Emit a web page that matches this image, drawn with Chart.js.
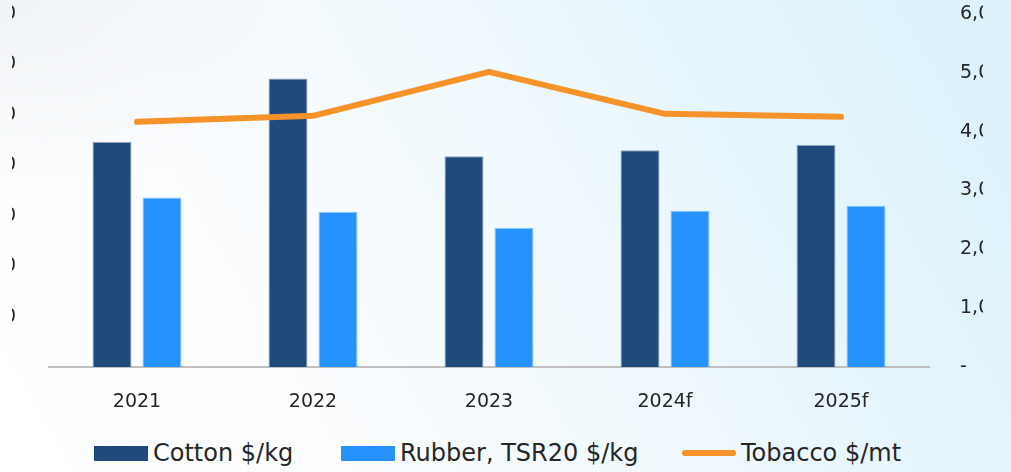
<!DOCTYPE html>
<html>
<head>
<meta charset="utf-8">
<script src="https://cdn.jsdelivr.net/npm/chart.js@4.4.1/dist/chart.umd.min.js"></script>
<style>
  html, body { margin: 0; padding: 0; }
  body {
    width: 1011px; height: 472px; overflow: hidden; position: relative;
    background:
      radial-gradient(ellipse 320px 200px at 0% 0%, rgba(236,239,242,0.7), rgba(236,239,242,0) 100%),
      linear-gradient(60deg, #ffffff 0%, #fafcfe 30%, #eef8fd 58%, #e2f4fc 80%, #dcf1fb 100%);
    font-family: "DejaVu Sans", sans-serif;
  }
  #clip { position: absolute; left: 12px; top: 0; width: 971px; height: 440px; overflow: hidden; }
  #wrap { position: absolute; left: -52px; top: 0; width: 1091px; height: 430px; }
  .lg { position: absolute; top: 440px; height: 26px; display: flex; align-items: center;
        font-size: 24px; color: #262626; white-space: nowrap; }
  .sw { display: inline-block; width: 54px; height: 15px; margin-right: 5px; }
  .ln { display: inline-block; width: 54px; height: 6px; border-radius: 3px; margin-right: 5px; }
</style>
</head>
<body>
<div id="clip"><div id="wrap"><canvas id="c" width="1091" height="430"></canvas></div></div>
<div class="lg" style="left:94px"><span class="sw" style="background:#204a7c"></span>Cotton $/kg</div>
<div class="lg" style="left:341px"><span class="sw" style="background:#2592fe"></span>Rubber, TSR20 $/kg</div>
<div class="lg" style="left:682px"><span class="ln" style="background:#f5922a"></span>Tobacco $/mt</div>
<script>
// Commodity prices by year (f = forecast)
const years   = ['2021', '2022', '2023', '2024f', '2025f'];
const cotton  = [2.23, 2.86, 2.09, 2.15, 2.20];      // $/kg, left axis
const rubber  = [1.68, 1.54, 1.38, 1.55, 1.60];      // $/kg, left axis
const tobacco = [4167, 4269, 5017, 4303, 4252];      // $/mt, right axis

const tickFont = { family: 'DejaVu Sans', size: 19 };
const tickColor = '#262626';

new Chart(document.getElementById('c'), {
  data: {
    labels: years,
    datasets: [
      { type: 'line', label: 'Tobacco $/mt', data: tobacco, yAxisID: 'y1', order: 0,
        borderColor: '#f5922a', borderWidth: 6, borderCapStyle: 'round', borderJoinStyle: 'round',
        pointRadius: 0, tension: 0, fill: false },
      { type: 'bar', label: 'Cotton $/kg', data: cotton, yAxisID: 'y', order: 1,
        backgroundColor: '#204a7c', borderColor: '#8fa3bb', borderWidth: 1,
        barPercentage: 0.78, categoryPercentage: 0.568 },
      { type: 'bar', label: 'Rubber, TSR20 $/kg', data: rubber, yAxisID: 'y', order: 1,
        backgroundColor: '#2592fe', borderColor: '#8cc6ff', borderWidth: 1,
        barPercentage: 0.78, categoryPercentage: 0.568 }
    ]
  },
  options: {
    responsive: false,
    animation: false,
    layout: { padding: { top: 14, bottom: 0, left: 0, right: 0 } },
    plugins: { legend: { display: false }, tooltip: { enabled: false } },
    scales: {
      x: {
        grid: { display: false },
        border: { display: true, color: '#bfbfbf', width: 2 },
        ticks: { font: tickFont, color: tickColor, padding: 16 },
        afterFit: s => { s.height = 63; }
      },
      y: {
        position: 'left', min: 0, max: 3.5,
        // hidden tick marks only serve as the gap between labels and plot
        grid: { display: false, drawTicks: true, tickLength: 33 },
        border: { display: false },
        ticks: { stepSize: 0.5, font: tickFont, color: tickColor, padding: 0,
                 callback: v => v === 0 ? '-      ' : v.toFixed(2) },
        afterFit: s => { s.width = 89; }
      },
      y1: {
        position: 'right', min: 0, max: 6000,
        grid: { display: false, drawTicks: true, tickLength: 31 },
        border: { display: false },
        ticks: { stepSize: 1000, font: tickFont, color: tickColor, padding: 0,
                 callback: v => v === 0 ? '-' : v.toLocaleString('en-US') },
        afterFit: s => { s.width = 122; }
      }
    }
  }
});
</script>
</body>
</html>
